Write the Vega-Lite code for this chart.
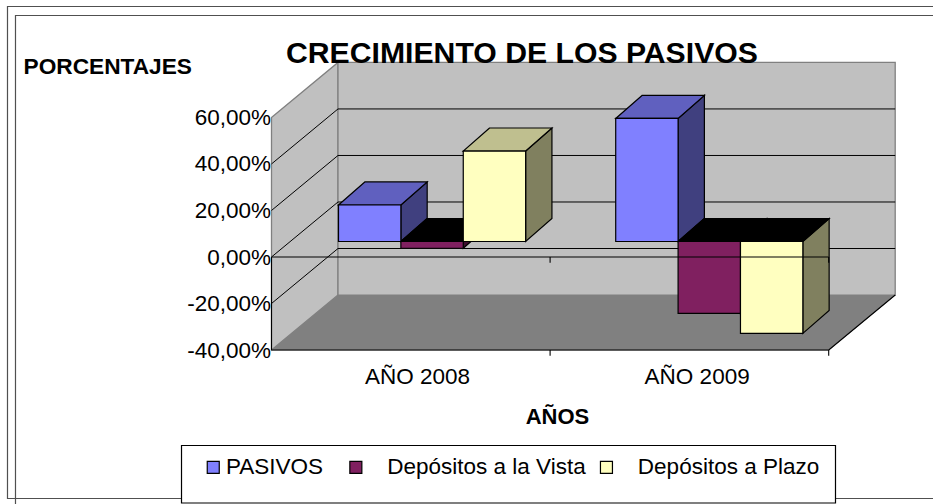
{
"$schema":"https://vega.github.io/schema/vega-lite/v6.json",
"width":933,"height":504,"padding":0,"autosize":{"type":"none"},
"background":"white",
"config":{"view":{"stroke":null},"font":"Liberation Sans"},
"title":{"text":"CRECIMIENTO DE LOS PASIVOS","anchor":"start","frame":"group","dx":286,"offset":-93,"baseline":"alphabetic","font":"Liberation Sans","fontSize":30.2,"fontWeight":"bold","color":"black"},
"datasets":{
"bars":[
{"year":"AÑO 2008","series":"PASIVOS","value":15.7},
{"year":"AÑO 2008","series":"Depósitos a la Vista","value":-2.9},
{"year":"AÑO 2008","series":"Depósitos a Plazo","value":38.9},
{"year":"AÑO 2009","series":"PASIVOS","value":52.9},
{"year":"AÑO 2009","series":"Depósitos a la Vista","value":-30.9},
{"year":"AÑO 2009","series":"Depósitos a Plazo","value":-39.5}
],
"depth":[{"d":0},{"d":1}],
"grid":[
{"v":-20,"cat":0,"d":0},{"v":-20,"cat":0,"d":1},{"v":-20,"cat":2,"d":1},
{"v":0,"cat":0,"d":0},{"v":0,"cat":0,"d":1},{"v":0,"cat":2,"d":1},
{"v":20,"cat":0,"d":0},{"v":20,"cat":0,"d":1},{"v":20,"cat":2,"d":1},
{"v":40,"cat":0,"d":0},{"v":40,"cat":0,"d":1},{"v":40,"cat":2,"d":1}
],
"front":[
{"id":"zero","cat":0,"v":0,"d":0},{"id":"zero","cat":2,"v":0,"d":0},
{"id":"axis","cat":0,"v":0,"d":0},{"id":"axis","cat":0,"v":-40,"d":0},
{"id":"floorfront","cat":0,"v":-40,"d":0},{"id":"floorfront","cat":2,"v":-40,"d":0},
{"id":"floorright","cat":2,"v":-40,"d":0},{"id":"floorright","cat":2,"v":-40,"d":1},
{"id":"t1a","cat":1,"v":0,"d":0},{"id":"t1a","cat":1,"v":-2.5,"d":0},
{"id":"t2a","cat":2,"v":0,"d":0},{"id":"t2a","cat":2,"v":-2.5,"d":0},
{"id":"t1b","cat":1,"v":-40,"d":0},{"id":"t1b","cat":1,"v":-42.5,"d":0},
{"id":"t2b","cat":2,"v":-40,"d":0},{"id":"t2b","cat":2,"v":-42.5,"d":0}
],
"frames":[
{"px":-0.9476,"px2":2.45,"py":107.7,"py2":-103.83},
{"px":-0.9189,"px2":2.45,"py":103.83,"py2":-108.77}
],
"legendbox":[{"px":-0.323,"px2":2.0244,"py":-81.04,"py2":-105.76}]
},
"encoding":{
"x":{"field":"px","type":"quantitative","scale":{"domain":[-0.97451,2.37437],"nice":false,"zero":false},
"axis":{"values":[0.522,1.526],"labelExpr":"datum.value<1?'AÑO 2008':'AÑO 2009'","grid":false,"ticks":false,"domain":false,"offset":-153.3,"labelPadding":15,"labelFont":"Liberation Sans","labelFontSize":22.5,"labelColor":"black","labelAngle":0,"labelFlush":false,"labelOverlap":false,
"title":"AÑOS","titleFont":"Liberation Sans","titleFontSize":22,"titleFontWeight":"bold","titleColor":"black","titleAnchor":"start","titleAlign":"center","titleBaseline":"alphabetic","titleX":557,"titleY":73}},
"y":{"field":"py","type":"quantitative","scale":{"domain":[-106.19,110.49],"nice":false,"zero":false},
"axis":{"values":[-40,-20,0,20,40,60],"labelExpr":"replace(replace(format(datum.value,'.2f'),'.',','),'\u2212','-')+'%'","grid":false,"ticks":false,"domain":false,"offset":-271.5,"labelPadding":1,"labelFont":"Liberation Sans","labelFontSize":22.5,"labelColor":"black","labelOverlap":false,"labelFlush":false,
"title":"PORCENTAJES","titleFont":"Liberation Sans","titleFontSize":22.7,"titleFontWeight":"bold","titleColor":"black","titleAngle":0,"titleAlign":"left","titleBaseline":"alphabetic","titleX":-248.5,"titleY":73}}
},
"layer":[
{"data":{"name":"frames"},"mark":{"type":"rect","fill":null,"stroke":"#505050","strokeWidth":1.2,"clip":false},
 "encoding":{"x2":{"field":"px2"},"y2":{"field":"py2"}}},
{"data":{"name":"depth"},
 "transform":[{"calculate":"datum.d*0.2387","as":"px"},{"calculate":"2+datum.d*0.2387","as":"px2"},{"calculate":"-40+datum.d*23.65","as":"py"}],
 "mark":{"type":"area","orient":"horizontal","fill":"#808080","stroke":"#808080","strokeWidth":1},
 "encoding":{"x2":{"field":"px2"}}},
{"data":{"name":"depth"},
 "transform":[{"calculate":"datum.d*0.2387","as":"px"},{"calculate":"60+datum.d*23.65","as":"py"},{"calculate":"-40+datum.d*23.65","as":"py2"}],
 "mark":{"type":"area","orient":"vertical","fill":"#C0C0C0","stroke":"#808080","strokeWidth":1.3},
 "encoding":{"y2":{"field":"py2"}}},
{"data":{"values":[{"px":0.2387,"px2":2.2387,"py":83.65,"py2":-16.35}]},
 "mark":{"type":"rect","fill":"#C0C0C0","stroke":"#808080","strokeWidth":1.3},
 "encoding":{"x2":{"field":"px2"},"y2":{"field":"py2"}}},
{"data":{"name":"grid"},
 "transform":[{"calculate":"datum.cat+datum.d*0.2387","as":"px"},{"calculate":"datum.v+datum.d*23.65","as":"py"}],
 "mark":{"type":"line","stroke":"black","strokeWidth":1},
 "encoding":{"detail":{"field":"v"}}},
{"data":{"name":"bars"},
 "transform":[
 {"calculate":"(datum.year=='AÑO 2008'?0:0.995)+0.2405+indexof(['PASIVOS','Depósitos a la Vista','Depósitos a Plazo'],datum.series)*0.2239+0.2239","as":"xr"},
 {"calculate":"[0,1]","as":"t"},{"flatten":["t"]},
 {"calculate":"datum.xr+datum.t*0.0944","as":"px"},
 {"calculate":"datum.value+6.66+datum.t*9.9","as":"py"},
 {"calculate":"6.66+datum.t*9.9","as":"py2"},
 {"calculate":"datum.series=='PASIVOS'?'#40407F':datum.series=='Depósitos a Plazo'?'#80805F':'#3F0F2F'","as":"fc"}],
 "mark":{"type":"area","orient":"vertical","stroke":"black","strokeWidth":1.2},
 "encoding":{"y2":{"field":"py2"},"detail":[{"field":"year"},{"field":"series"}],"fill":{"field":"fc","type":"nominal","scale":null}}},
{"data":{"name":"bars"},
 "transform":[
 {"calculate":"(datum.year=='AÑO 2008'?0:0.995)+0.2405+indexof(['PASIVOS','Depósitos a la Vista','Depósitos a Plazo'],datum.series)*0.2239","as":"xl"},
 {"calculate":"[0,1]","as":"t"},{"flatten":["t"]},
 {"calculate":"datum.xl+datum.t*0.0944","as":"px"},
 {"calculate":"datum.xl+0.2239+datum.t*0.0944","as":"px2"},
 {"calculate":"max(datum.value,0)+6.66+datum.t*9.9","as":"py"},
 {"calculate":"datum.value<0?'#000000':datum.series=='PASIVOS'?'#6060BF':'#BFBF8F'","as":"fc"}],
 "mark":{"type":"area","orient":"horizontal","stroke":"black","strokeWidth":1.2},
 "encoding":{"x2":{"field":"px2"},"detail":[{"field":"year"},{"field":"series"}],"fill":{"field":"fc","type":"nominal","scale":null}}},
{"data":{"name":"legendbox"},"mark":{"type":"rect","fill":"white","stroke":"black","strokeWidth":1.2},
 "encoding":{"x2":{"field":"px2"},"y2":{"field":"py2"}}},
{"data":{"name":"bars"},
 "transform":[
 {"calculate":"(datum.year=='AÑO 2008'?0:0.995)+0.2405+indexof(['PASIVOS','Depósitos a la Vista','Depósitos a Plazo'],datum.series)*0.2239","as":"px"},
 {"calculate":"datum.px+0.2239","as":"px2"},
 {"calculate":"datum.value+6.66","as":"py"},
 {"calculate":"6.66","as":"py2"}],
 "mark":{"type":"rect","stroke":"black","strokeWidth":1.2},
 "encoding":{"x2":{"field":"px2"},"y2":{"field":"py2"},
 "fill":{"field":"series","type":"nominal","scale":{"domain":["PASIVOS","Depósitos a la Vista","Depósitos a Plazo"],"range":["#8080FF","#802060","#FFFFC0"]},
 "legend":{"orient":"none","legendX":202,"legendY":456,"direction":"horizontal","columns":3,"title":null,"padding":0,"gridAlign":"each","columnPadding":8.6,"symbolType":"square","symbolSize":144,"symbolStrokeColor":"black","symbolStrokeWidth":1.2,"symbolOpacity":1,"labelFont":"Liberation Sans","labelFontSize":22.5,"labelColor":"black","labelOffset":1.4,"labelLimit":400,"labelExpr":"datum.label=='PASIVOS'?'PASIVOS\u00a0\u00a0\u200b':'\u200b\u00a0\u00a0\u00a0'+datum.label"}}}},
{"data":{"name":"front"},
 "transform":[{"calculate":"datum.cat+datum.d*0.2387","as":"px"},{"calculate":"datum.v+datum.d*23.65","as":"py"}],
 "mark":{"type":"line","stroke":"black","strokeWidth":1.1},
 "encoding":{"detail":{"field":"id"}}}
]
}
